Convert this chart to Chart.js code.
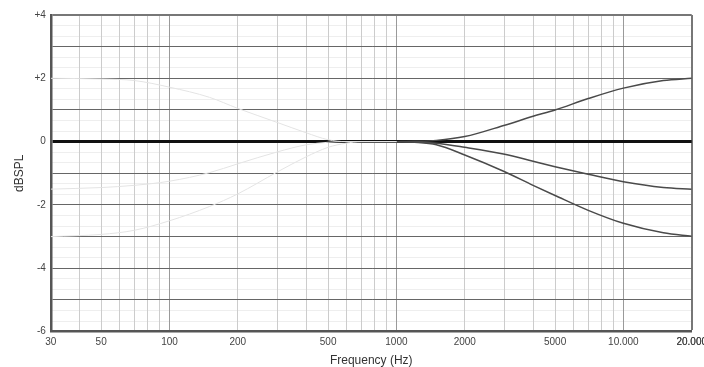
<!DOCTYPE html>
<html>
<head>
<meta charset="utf-8">
<script src="https://cdn.jsdelivr.net/npm/chart.js@4"></script>
<style>
  html, body { margin: 0; padding: 0; background: #fff; overflow: hidden; }
  #wrap { width: 712px; height: 368px; position: relative; }
</style>
</head>
<body>
<div id="wrap"><canvas id="eqChart"></canvas></div>
<script>
const highFreqs = [1000, 1200, 1500, 2000, 3000, 4000, 5000, 7000, 10000, 15000, 20000];
const highBoost = [0, 0.01, 0.04, 0.16, 0.52, 0.8, 1.0, 1.36, 1.69, 1.93, 2.0];
const highCutMid = [0, -0.01, -0.05, -0.18, -0.4, -0.62, -0.79, -1.03, -1.27, -1.45, -1.5];
const highCutDeep = [0, -0.02, -0.1, -0.42, -0.95, -1.38, -1.7, -2.17, -2.58, -2.88, -2.99];

// faint low shelf curves
const lowFreqs = [30, 50, 70, 100, 150, 200, 300, 400, 500, 600, 700, 1000];
const lowBoost = [2.0, 1.98, 1.93, 1.72, 1.4, 1.05, 0.6, 0.28, 0.06, 0, 0, 0];
const lowCutMid = [-1.5, -1.45, -1.38, -1.25, -0.98, -0.7, -0.32, -0.1, -0.02, 0, 0, 0];
const lowCutDeep = [-3.0, -2.93, -2.8, -2.5, -2.05, -1.65, -0.95, -0.48, -0.18, -0.05, 0, 0];

const xTickValues = [30, 50, 100, 200, 500, 1000, 2000, 5000, 10000, 20000];
const xTickLabels = ['30', '50', '100', '200', '500', '1000', '2000', '5000', '10.000', '20.000'];
const yTickValues = [4, 2, 0, -2, -4, -6];
const yTickLabels = ['+4', '+2', '0', '-2', '-4', '-6'];

const pts = (xs, ys) => xs.map((x, i) => ({ x: x, y: ys[i] }));

// grid lines: 1..9 per decade, horizontal every dB plus faint thirds
const xGrid = [];
[10, 100, 1000, 10000].forEach(d => {
    for (let m = 1; m <= 9; m++) {
        const f = m * d;
        if (f >= 30 && f <= 20000) xGrid.push(f);
    }
});
xGrid.push(20000);
const yMajor = [];
for (let v = -6; v <= 4; v++) yMajor.push(v);
const yMinor = [];
for (let i = -18; i <= 12; i++) if (i % 3 !== 0) yMinor.push(i / 3);

const faint = '#e4e4e4';
const dark = '#4a4a4a';
const font = { family: 'Liberation Sans', size: 10 };

function line(data, color, width) {
    return {
        data: data,
        borderColor: color,
        borderWidth: width,
        pointRadius: 0,
        fill: false,
        cubicInterpolationMode: 'monotone'
    };
}

new Chart(document.getElementById('eqChart'), {
    type: 'line',
    data: {
        datasets: [
            line(pts(lowFreqs, lowBoost), faint, 1),
            line(pts(lowFreqs, lowCutMid), faint, 1),
            line(pts(lowFreqs, lowCutDeep), faint, 1),
            line(pts(highFreqs, highBoost), dark, 1.5),
            line(pts(highFreqs, highCutMid), dark, 1.5),
            line(pts(highFreqs, highCutDeep), dark, 1.5)
        ]
    },
    options: {
        responsive: true,
        maintainAspectRatio: false,
        animation: false,
        layout: { padding: { top: 15, left: 12, right: 0, bottom: 0 } },
        plugins: { legend: { display: false }, tooltip: { enabled: false } },
        scales: {
            yMinor: {
                position: 'left',
                z: -2,
                min: -6,
                max: 4,
                afterBuildTicks: s => { s.ticks = yMinor.map(v => ({ value: v })); },
                ticks: { display: false },
                border: { display: false },
                grid: { drawTicks: false, color: '#eeeeee', lineWidth: 1 }
            },
            x: {
                type: 'logarithmic',
                z: -1,
                min: 30,
                max: 20000,
                afterBuildTicks: s => { s.ticks = xGrid.map(v => ({ value: v })); },
                ticks: {
                    autoSkip: false,
                    maxRotation: 0,
                    padding: 5,
                    color: '#444',
                    font: font,
                    callback: v => {
                        const i = xTickValues.indexOf(v);
                        return i >= 0 ? xTickLabels[i] : '';
                    }
                },
                grid: {
                    drawTicks: false,
                    color: c => {
                        const v = c.tick && c.tick.value;
                        if (v === 20000) return '#777';
                        return (v === 100 || v === 1000 || v === 10000) ? '#9a9a9a' : '#cccccc';
                    },
                    lineWidth: c => (c.tick && c.tick.value === 20000) ? 2 : 1
                },
                border: { display: true, color: '#555', width: 2.5 },
                title: {
                    display: true,
                    text: 'Frequency (Hz)',
                    color: '#333',
                    padding: { top: 0, bottom: 0 },
                    font: { family: 'Liberation Sans', size: 12 }
                }
            },
            y: {
                position: 'left',
                min: -6,
                max: 4,
                afterBuildTicks: s => { s.ticks = yMajor.map(v => ({ value: v })); },
                ticks: {
                    autoSkip: false,
                    padding: 5,
                    color: '#444',
                    font: font,
                    callback: v => {
                        const i = yTickValues.indexOf(v);
                        return i >= 0 ? yTickLabels[i] : '';
                    }
                },
                grid: {
                    drawTicks: false,
                    color: c => {
                        const v = c.tick ? c.tick.value : 0;
                        if (v === 0) return '#111';
                        if (v === 4) return '#777';
                        return '#666';
                    },
                    lineWidth: c => {
                        const v = c.tick ? c.tick.value : 0;
                        if (v === 0) return 3;
                        if (v === 4) return 2;
                        return 1;
                    }
                },
                border: { display: true, color: '#555', width: 2.5 },
                title: {
                    display: true,
                    text: 'dBSPL',
                    color: '#333',
                    padding: { top: 0, bottom: 3 },
                    font: { family: 'Liberation Sans', size: 12 }
                }
            }
        }
    }
});
</script>
</body>
</html>
